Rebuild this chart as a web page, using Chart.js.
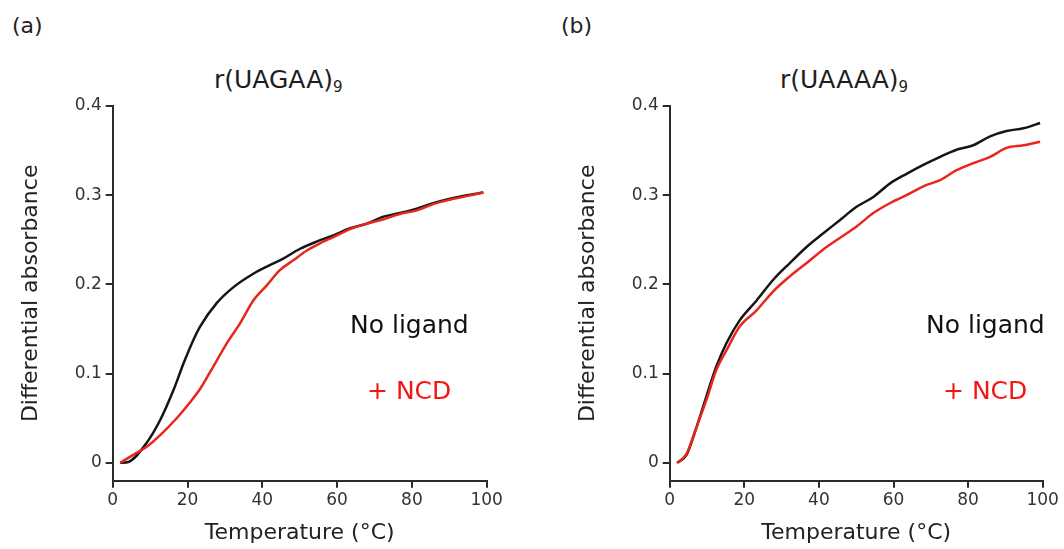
<!DOCTYPE html>
<html>
<head>
<meta charset="utf-8">
<script src="https://cdn.jsdelivr.net/npm/chart.js@4/dist/chart.umd.min.js"></script>
<style>
  body { margin: 0; background: #fff; font-family: "DejaVu Sans", sans-serif; }
  .page { position: relative; width: 1064px; height: 549px; overflow: hidden; }
  .box { position: absolute; top: 90px; height: 459px; }
  .txt { position: absolute; line-height: 1; white-space: nowrap; }
  .panel-tag { font-size: 22px; color: #222; }
  .title { font-size: 25px; color: #1e1e1e; }
  .title sub { font-size: 15px; vertical-align: -4px; }
  .note { font-size: 25px; }
</style>
</head>
<body>
<div class="page">
  <div class="txt panel-tag" style="left:12px; top:15px;">(a)</div>
  <div class="txt panel-tag" style="left:561px; top:15px;">(b)</div>
  <div class="txt title" style="left:214px; top:67px;">r(UAGAA)<sub>9</sub></div>
  <div class="txt title" style="left:780px; top:67px;">r(UAAAA)<sub>9</sub></div>

  <div class="box" style="left:0; width:520px;"><canvas id="chart-a"></canvas></div>
  <div class="box" style="left:557px; width:507px;"><canvas id="chart-b"></canvas></div>

  <div class="txt note" style="left:350px; top:312px; color:#111;">No ligand</div>
  <div class="txt note" style="left:367px; top:378px; color:#f5140f;">+ NCD</div>
  <div class="txt note" style="left:926px; top:312px; color:#111;">No ligand</div>
  <div class="txt note" style="left:943px; top:378px; color:#f5140f;">+ NCD</div>
</div>

<script>
// tick labels
const xTicks = [0, 20, 40, 60, 80, 100];
const yTicks = [0, 0.1, 0.2, 0.3, 0.4];

// r(UAGAA)9, no ligand
const tempA_none = [2, 4.2, 9, 12.7, 16.2, 18.9, 21.6, 23.4, 27.8, 32.3, 37.6, 41.2, 45.6, 50.1, 54.5, 59, 63.5, 67.9, 72.4, 76.8, 81.3, 85.7, 90.2, 94.7, 99.1];
const absA_none = [0, 0.001, 0.022, 0.048, 0.081, 0.111, 0.138, 0.153, 0.179, 0.197, 0.212, 0.22, 0.229, 0.24, 0.248, 0.255, 0.263, 0.268, 0.276, 0.28, 0.285, 0.291, 0.296, 0.3, 0.303];

// r(UAGAA)9, + NCD
const tempA_ncd = [2, 5.5, 9.1, 12.7, 17.1, 20.7, 23.4, 26.9, 30.5, 34, 37.6, 41.2, 44.7, 48.3, 51.9, 55.4, 59, 63.5, 67.9, 72.4, 76.8, 81.3, 85.7, 90.2, 94.7, 99.1];
const absA_ncd = [0, 0.009, 0.018, 0.031, 0.05, 0.068, 0.083, 0.108, 0.134, 0.156, 0.182, 0.199, 0.216, 0.227, 0.238, 0.246, 0.253, 0.262, 0.268, 0.273, 0.279, 0.283, 0.29, 0.295, 0.299, 0.303];

// r(UAAAA)9, no ligand
const tempB_none = [2, 4.5, 7.2, 9.8, 12.5, 15.2, 18.8, 23.3, 27.7, 32.2, 36.7, 41.1, 45.6, 50.1, 54.6, 59, 63.5, 68, 72.5, 76.9, 81.4, 85.9, 90.3, 94.8, 99.3];
const absB_none = [0, 0.009, 0.04, 0.074, 0.108, 0.134, 0.16, 0.182, 0.205, 0.224, 0.242, 0.257, 0.272, 0.287, 0.298, 0.313, 0.324, 0.334, 0.343, 0.351, 0.356, 0.366, 0.372, 0.375, 0.381];

// r(UAAAA)9, + NCD
const tempB_ncd = [2, 4.5, 7.2, 9.8, 12.5, 15.2, 18.8, 23.3, 27.7, 32.2, 36.7, 41.1, 45.6, 50.1, 54.6, 59, 63.5, 68, 72.5, 76.9, 81.4, 85.9, 90.3, 94.8, 99.3];
const absB_ncd = [0, 0.01, 0.04, 0.07, 0.104, 0.126, 0.153, 0.171, 0.192, 0.209, 0.224, 0.239, 0.252, 0.265, 0.28, 0.291, 0.3, 0.31, 0.317, 0.328, 0.336, 0.343, 0.353, 0.356, 0.36];

const AXIS = "#2b2b2b";
const BLACK = "#151515";
const RED = "#e8261c";

function points(xs, ys) {
  return xs.map((x, i) => ({ x, y: ys[i] }));
}

function series(xs, ys, color) {
  return {
    data: points(xs, ys),
    borderColor: color,
    borderWidth: 2.5,
    pointRadius: 0,
    cubicInterpolationMode: "monotone",
  };
}

function makeChart(id, none, ncd, rightPad) {
  return new Chart(document.getElementById(id), {
    type: "line",
    data: {
      datasets: [series(ncd[0], ncd[1], RED), series(none[0], none[1], BLACK)],
    },
    options: {
      responsive: true,
      maintainAspectRatio: false,
      animation: false,
      layout: { padding: { top: 16, right: rightPad, left: 0, bottom: 0 } },
      plugins: { legend: { display: false }, tooltip: { enabled: false } },
      scales: {
        x: {
          type: "linear",
          min: 0,
          max: 100,
          afterBuildTicks: (scale) => { scale.ticks = xTicks.map((v) => ({ value: v })); },
          afterFit: (scale) => { scale.height = 68.3; },
          border: { display: true, color: AXIS, width: 2 },
          grid: { drawOnChartArea: false, drawTicks: true, tickLength: 7, color: AXIS, lineWidth: 2 },
          ticks: { color: "#333", padding: 3, maxRotation: 0, font: { family: "DejaVu Sans", size: 17 } },
          title: {
            display: true,
            text: "Temperature (°C)",
            color: "#222",
            padding: { top: 0, bottom: 3 },
            font: { family: "DejaVu Sans", size: 22 },
          },
        },
        y: {
          min: -0.02,
          max: 0.4,
          afterBuildTicks: (scale) => { scale.ticks = yTicks.map((v) => ({ value: v })); },
          afterFit: (scale) => { scale.width = 112.7; },
          border: { display: true, color: AXIS, width: 2 },
          grid: { drawOnChartArea: false, drawTicks: true, tickLength: 7, color: AXIS, lineWidth: 2 },
          ticks: {
            color: "#333",
            padding: 4,
            font: { family: "DejaVu Sans", size: 17 },
            callback: (v) => (v === 0 ? "0" : v.toFixed(1)),
          },
          title: {
            display: true,
            text: "Differential absorbance",
            color: "#222",
            padding: { top: 18, bottom: 0 },
            font: { family: "DejaVu Sans", size: 22 },
          },
        },
      },
    },
  });
}

makeChart("chart-a", [tempA_none, absA_none], [tempA_ncd, absA_ncd], 33.3);
makeChart("chart-b", [tempB_none, absB_none], [tempB_ncd, absB_ncd], 21.3);
</script>
</body>
</html>
